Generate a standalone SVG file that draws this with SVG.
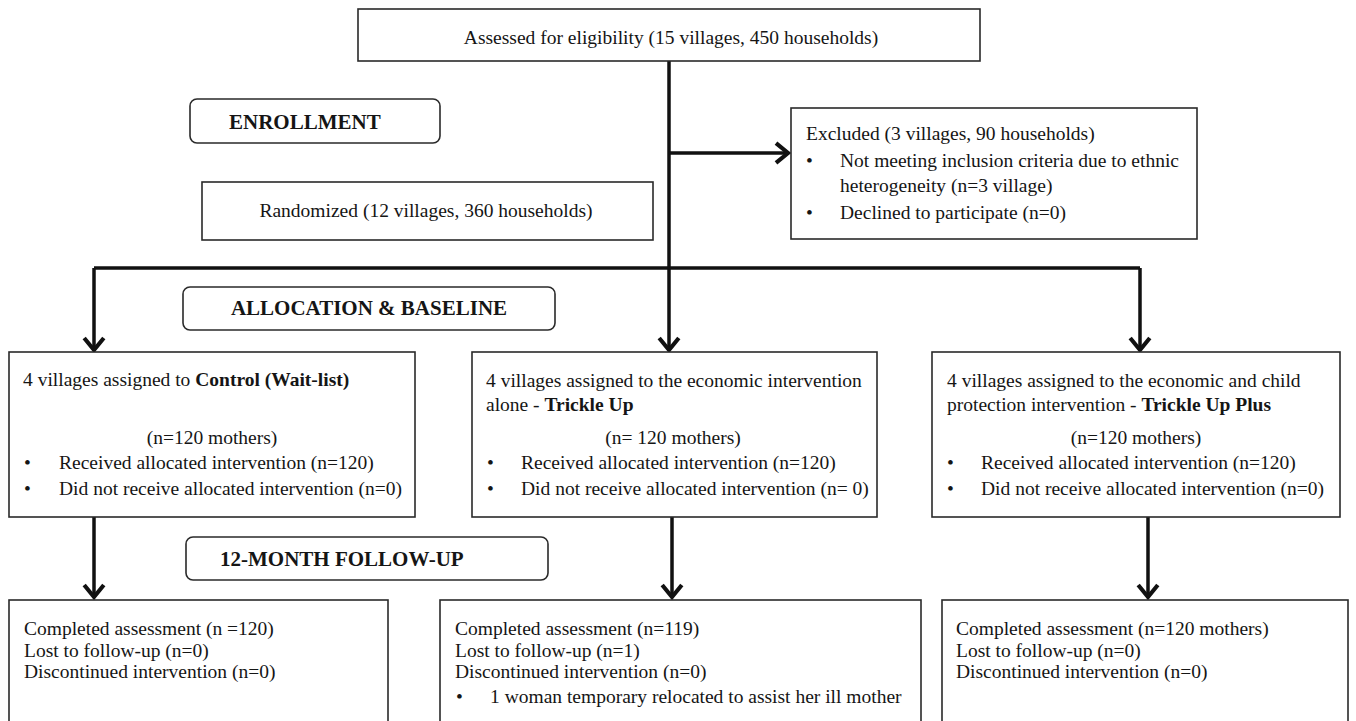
<svg xmlns="http://www.w3.org/2000/svg" width="1356" height="721" viewBox="0 0 1356 721">
<style>
.box{fill:#fff;stroke:#2a2a2a;stroke-width:1.6}
.stage{fill:#fff;stroke:#2a2a2a;stroke-width:1.6}
.t{font-family:"Liberation Serif","Times New Roman",serif;font-size:19.5px;fill:#151515}
.b{font-weight:bold}
.h{font-family:"Liberation Serif","Times New Roman",serif;font-size:21px;font-weight:bold;fill:#151515}
.c{text-anchor:middle}
.line{fill:none;stroke:#111;stroke-width:3.5}
</style>
<defs>
<marker id="arr" markerUnits="userSpaceOnUse" markerWidth="24" markerHeight="24" viewBox="-13 -11 16 22" refX="0" refY="0" orient="auto">
<polyline points="-11,-9 0,0 -11,9" fill="none" stroke="#111" stroke-width="3.8" stroke-linejoin="miter"/>
</marker>
</defs>
<rect width="1356" height="721" fill="#fff"/>

<g id="connectors">
<path class="line" d="M669 61 V268"/>
<path class="line" d="M669 153 H788" marker-end="url(#arr)"/>
<path class="line" d="M94 268 H1140"/>
<path class="line" d="M94 268 V350" marker-end="url(#arr)"/>
<path class="line" d="M669 268 V350" marker-end="url(#arr)"/>
<path class="line" d="M1140 268 V350" marker-end="url(#arr)"/>
<path class="line" d="M94 517 V597" marker-end="url(#arr)"/>
<path class="line" d="M672 517 V597" marker-end="url(#arr)"/>
<path class="line" d="M1148 517 V597" marker-end="url(#arr)"/>
</g>

<g id="assessed">
<rect class="box" x="358" y="9" width="622" height="52"/>
<text class="t c" x="671" y="44">Assessed for eligibility (15 villages, 450 households)</text>
</g>

<g id="enrollment">
<rect class="stage" x="190" y="99" width="250" height="44" rx="7"/>
<text class="h" x="229" y="129">ENROLLMENT</text>
</g>

<g id="randomized">
<rect class="box" x="202" y="182" width="451" height="58"/>
<text class="t c" x="426" y="217">Randomized (12 villages, 360 households)</text>
</g>

<g id="excluded">
<rect class="box" x="791" y="108" width="406" height="131"/>
<text class="t" x="806" y="140">Excluded (3 villages, 90 households)</text>
<text class="t" x="806" y="167">•</text>
<text class="t" x="840" y="167">Not meeting inclusion criteria due to ethnic</text>
<text class="t" x="840" y="192">heterogeneity  (n=3 village)</text>
<text class="t" x="806" y="219">•</text>
<text class="t" x="840" y="219">Declined to participate (n=0)</text>
</g>

<g id="allocation">
<rect class="stage" x="183" y="287" width="372" height="43" rx="7"/>
<text class="h c" x="369" y="315">ALLOCATION &amp; BASELINE</text>
</g>

<g id="control">
<rect class="box" x="9" y="352" width="406" height="165"/>
<text class="t" x="23" y="386">4 villages assigned to <tspan class="b">Control (Wait-list)</tspan></text>
<text class="t c" x="212" y="444">(n=120 mothers)</text>
<text class="t" x="24" y="469">•</text>
<text class="t" x="59" y="469">Received allocated intervention (n=120)</text>
<text class="t" x="24" y="495">•</text>
<text class="t" x="59" y="495">Did not receive allocated intervention (n=0)</text>
</g>

<g id="trickleup">
<rect class="box" x="472" y="352" width="405" height="165"/>
<text class="t" x="486" y="387">4 villages assigned to the economic intervention</text>
<text class="t" x="486" y="411">alone - <tspan class="b">Trickle Up</tspan></text>
<text class="t c" x="673" y="444">(n= 120 mothers)</text>
<text class="t" x="487" y="469">•</text>
<text class="t" x="521" y="469">Received allocated intervention (n=120)</text>
<text class="t" x="487" y="495">•</text>
<text class="t" x="521" y="495">Did not receive allocated intervention (n= 0)</text>
</g>

<g id="trickleupplus">
<rect class="box" x="932" y="352" width="408" height="165"/>
<text class="t" x="947" y="387">4 villages assigned to the economic and child</text>
<text class="t" x="947" y="411">protection intervention - <tspan class="b">Trickle Up Plus</tspan></text>
<text class="t c" x="1136" y="444">(n=120 mothers)</text>
<text class="t" x="947" y="469">•</text>
<text class="t" x="981" y="469">Received allocated intervention (n=120)</text>
<text class="t" x="947" y="495">•</text>
<text class="t" x="981" y="495">Did not receive allocated intervention (n=0)</text>
</g>

<g id="followup">
<rect class="stage" x="186" y="537" width="362" height="43" rx="7"/>
<text class="h" x="220" y="566">12-MONTH FOLLOW-UP</text>
</g>

<g id="fu-control">
<rect class="box" x="9" y="600" width="379" height="140"/>
<text class="t" x="24" y="635">Completed assessment (n =120)</text>
<text class="t" x="24" y="657">Lost to follow-up (n=0)</text>
<text class="t" x="24" y="678">Discontinued intervention (n=0)</text>
</g>

<g id="fu-trickleup">
<rect class="box" x="440" y="600" width="481" height="140"/>
<text class="t" x="455" y="635">Completed assessment (n=119)</text>
<text class="t" x="455" y="657">Lost to follow-up (n=1)</text>
<text class="t" x="455" y="678">Discontinued intervention (n=0)</text>
<text class="t" x="456" y="703">•</text>
<text class="t" x="490" y="703">1 woman temporary relocated to assist her ill mother</text>
</g>

<g id="fu-trickleupplus">
<rect class="box" x="942" y="600" width="406" height="140"/>
<text class="t" x="956" y="635">Completed assessment (n=120 mothers)</text>
<text class="t" x="956" y="657">Lost to follow-up (n=0)</text>
<text class="t" x="956" y="678">Discontinued intervention (n=0)</text>
</g>
</svg>
